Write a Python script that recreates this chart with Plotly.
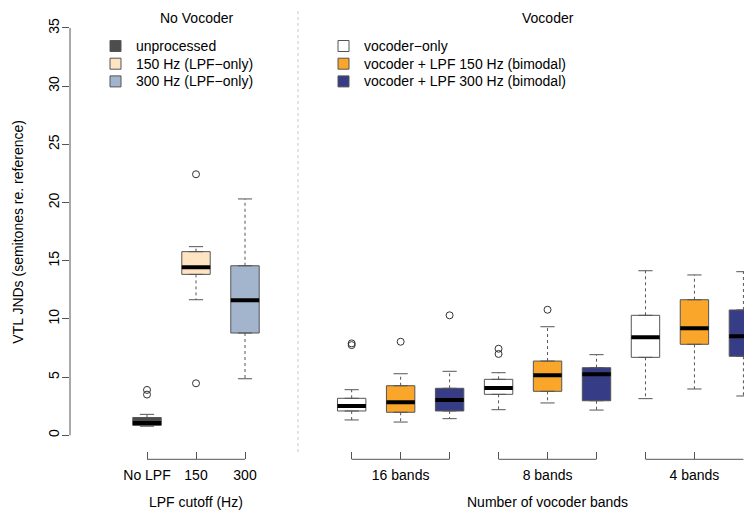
import plotly.graph_objects as go

W, H = 744, 510

# ---------------- data ----------------
# Left panel: no vocoder
left_pos = [1, 2, 3]
left_ticklabels = ["No LPF", "150", "300"]
left_names = ["unprocessed", "150 Hz (LPF−only)", "300 Hz (LPF−only)"]
left_colors = ["#4D4D4D", "#FFE4C4", "#A2B5CD"]
left_lower = [0.78, 11.65, 4.86]
left_q1 = [0.85, 13.83, 8.79]
left_median = [1.05, 14.44, 11.60]
left_q3 = [1.53, 15.78, 14.57]
left_upper = [1.80, 16.21, 20.31]
left_outliers = [[3.5, 3.9], [22.43, 4.47], []]

# Right panel: vocoder (per condition, values for 16, 8, 4 bands)
band_labels = ["16 bands", "8 bands", "4 bands"]
voc_names = ["vocoder−only", "vocoder + LPF 150 Hz (bimodal)", "vocoder + LPF 300 Hz (bimodal)"]
voc_colors = ["#FFFFFF", "#F9A62B", "#373C86"]
voc_lower = [[1.32, 2.20, 3.15], [1.14, 2.78, 3.98], [1.43, 2.17, 3.38]]
voc_q1 = [[2.09, 3.52, 6.70], [1.98, 3.78, 7.82], [2.09, 2.97, 6.79]]
voc_median = [[2.52, 4.06, 8.42], [2.84, 5.16, 9.19], [3.03, 5.24, 8.51]]
voc_q3 = [[3.18, 4.81, 10.31], [4.26, 6.38, 11.65], [4.04, 5.81, 10.77]]
voc_upper = [[3.92, 5.38, 14.14], [5.29, 9.33, 13.78], [5.50, 6.93, 14.06]]
voc_outliers = [[[7.75, 7.9], [6.99, 7.44], []],
                [[8.04], [10.79], []],
                [[10.31], [], []]]

y_ticks = [0, 5, 10, 15, 20, 25, 30, 35]

# ---------------- style ----------------
GRAY = "#555555"
FONT = "Liberation Sans, Arial, sans-serif"
FS = 14
BOXW = 0.58
CAPW = 0.29

fig = go.Figure()


def add_boxes(pos, lower, q1, med, q3, upper, outs, color, xa, ya):
    fig.add_trace(go.Box(
        x=pos, q1=q1, median=med, q3=q3, lowerfence=q1, upperfence=q3,
        width=BOXW, fillcolor=color, line=dict(color=GRAY, width=1),
        boxpoints=False, showlegend=False, hoverinfo="skip",
        xaxis=xa, yaxis=ya))
    # dashed whiskers
    wx, wy = [], []
    for p, lo, a, b, hi in zip(pos, lower, q1, q3, upper):
        wx += [p, p, None, p, p, None]
        wy += [b, hi, None, a, lo, None]
    fig.add_trace(go.Scatter(x=wx, y=wy, mode="lines",
                             line=dict(color=GRAY, width=1, dash="3px,3px"),
                             showlegend=False, hoverinfo="skip", xaxis=xa, yaxis=ya))
    # caps
    cx, cy = [], []
    for p, lo, hi in zip(pos, lower, upper):
        cx += [p - CAPW / 2, p + CAPW / 2, None, p - CAPW / 2, p + CAPW / 2, None]
        cy += [hi, hi, None, lo, lo, None]
    fig.add_trace(go.Scatter(x=cx, y=cy, mode="lines",
                             line=dict(color=GRAY, width=1),
                             showlegend=False, hoverinfo="skip", xaxis=xa, yaxis=ya))
    # medians
    mx, my = [], []
    for p, m in zip(pos, med):
        mx += [p - BOXW / 2, p + BOXW / 2, None]
        my += [m, m, None]
    fig.add_trace(go.Scatter(x=mx, y=my, mode="lines",
                             line=dict(color="black", width=4),
                             showlegend=False, hoverinfo="skip", xaxis=xa, yaxis=ya))
    # outliers
    ox, oy = [], []
    for p, o in zip(pos, outs):
        ox += [p] * len(o)
        oy += o
    if ox:
        fig.add_trace(go.Scatter(x=ox, y=oy, mode="markers",
                                 marker=dict(symbol="circle-open", size=7,
                                             color="#333333", line=dict(width=1)),
                                 showlegend=False, hoverinfo="skip", xaxis=xa, yaxis=ya))


for i in range(3):
    add_boxes([left_pos[i]], [left_lower[i]], [left_q1[i]], [left_median[i]],
              [left_q3[i]], [left_upper[i]], [left_outliers[i]], left_colors[i], "x", "y")

right_pos = []
for c in range(3):
    pos = [b * 3 + c + 1 for b in range(3)]
    right_pos += pos
    add_boxes(pos, voc_lower[c], voc_q1[c], voc_median[c], voc_q3[c],
              voc_upper[c], voc_outliers[c], voc_colors[c], "x2", "y2")
right_pos = sorted(right_pos)
right_ticktext = ["", band_labels[0], "", "", band_labels[1], "", "", band_labels[2], ""]

# ---------------- layout geometry (pixels) ----------------
PX_UNIT = 49.0
L_X0, L_X1, L_P1 = 70, 298, 147
R_X0, R_P1 = 300, 351.7
Y_TOP, Y_BOT = 11.7, 451.6
AXIS_Y = 459.3

px2x = lambda px: px / W
px2y = lambda py: 1 - py / H

xpos = px2y(AXIS_Y)
common_x = dict(anchor="free", position=xpos, ticks="inside", ticklen=7,
                tickcolor=GRAY, tickwidth=1, showline=False, showgrid=False,
                zeroline=False, tickfont=dict(family=FONT, size=FS, color="black"),
                ticklabelstandoff=6)

fig.update_layout(
    width=W, height=H,
    margin=dict(l=0, r=0, t=0, b=0),
    paper_bgcolor="white", plot_bgcolor="white",
    font=dict(family=FONT, size=FS, color="black"),
    xaxis=dict(domain=[px2x(L_X0), px2x(L_X1)],
               range=[1 - (L_P1 - L_X0) / PX_UNIT, 1 + (L_X1 - L_P1) / PX_UNIT],
               tickvals=left_pos, ticktext=left_ticklabels, **common_x),
    xaxis2=dict(domain=[px2x(R_X0), 1],
                range=[1 - (R_P1 - R_X0) / PX_UNIT, 9.012],
                tickvals=right_pos, ticktext=right_ticktext, **common_x),
    yaxis=dict(domain=[px2y(Y_BOT), px2y(Y_TOP)], range=[-1.4, 36.4], anchor="x",
               tickvals=y_ticks, ticks="outside", ticklen=7, tickcolor=GRAY,
               tickangle=-90, showline=False, showgrid=False, zeroline=False,
               tickfont=dict(family=FONT, size=FS, color="black"),
               ticklabelstandoff=-3),
    yaxis2=dict(domain=[px2y(Y_BOT), px2y(Y_TOP)], range=[-1.4, 36.4], anchor="x2",
                visible=False),
)

shapes = []
# y axis line from first to last tick
shapes.append(dict(type="line", xref="paper", yref="y", x0=px2x(L_X0), x1=px2x(L_X0),
                   y0=y_ticks[0], y1=y_ticks[-1], line=dict(color=GRAY, width=1)))
# bottom bracket lines
shapes.append(dict(type="line", xref="x", yref="paper", x0=left_pos[0], x1=left_pos[-1],
                   y0=xpos, y1=xpos, line=dict(color=GRAY, width=1)))
for b in range(3):
    shapes.append(dict(type="line", xref="x2", yref="paper",
                       x0=right_pos[b * 3], x1=right_pos[b * 3 + 2],
                       y0=xpos, y1=xpos, line=dict(color=GRAY, width=1)))
# dotted divider
shapes.append(dict(type="line", xref="paper", yref="paper", x0=px2x(298), x1=px2x(298),
                   y0=px2y(452), y1=px2y(10), line=dict(color="#C8C8C8", width=1, dash="dot")))

annotations = []
# legends (manual)
def legend(x_sq, names, colors):
    for k, (n, c) in enumerate(zip(names, colors)):
        yc = 46 + 17.7 * k
        shapes.append(dict(type="rect", xref="paper", yref="paper",
                           x0=px2x(x_sq), x1=px2x(x_sq + 11),
                           y0=px2y(yc + 5.5), y1=px2y(yc - 5.5),
                           fillcolor=c, line=dict(color=GRAY, width=1)))
        annotations.append(dict(text=n, xref="paper", yref="paper",
                                x=px2x(x_sq + 24), y=px2y(yc), xanchor="left",
                                yanchor="middle", showarrow=False,
                                font=dict(family=FONT, size=FS, color="black")))

legend(110, left_names, left_colors)
legend(338, voc_names, voc_colors)

# panel titles and axis titles
annotations.append(dict(text="No Vocoder", xref="x", yref="paper",
                        x=sum(left_pos) / len(left_pos), y=px2y(18), showarrow=False,
                        xanchor="center", yanchor="middle"))
annotations.append(dict(text="Vocoder", xref="x2", yref="paper",
                        x=sum(right_pos) / len(right_pos), y=px2y(18), showarrow=False,
                        xanchor="center", yanchor="middle"))
annotations.append(dict(text="LPF cutoff (Hz)", xref="x", yref="paper",
                        x=sum(left_pos) / len(left_pos), y=px2y(502), showarrow=False,
                        xanchor="center", yanchor="middle"))
annotations.append(dict(text="Number of vocoder bands", xref="x2", yref="paper",
                        x=sum(right_pos) / len(right_pos), y=px2y(502), showarrow=False,
                        xanchor="center", yanchor="middle"))
annotations.append(dict(text="VTL JNDs (semitones re. reference)", xref="paper",
                        yref="y", x=px2x(18), y=17.5, textangle=-90, showarrow=False,
                        xanchor="center", yanchor="middle"))

fig.update_layout(shapes=shapes, annotations=annotations)
fig.write_html("out.html", config={"displayModeBar": False},
               post_script="document.body.style.margin='0';document.body.style.overflow='hidden';")
